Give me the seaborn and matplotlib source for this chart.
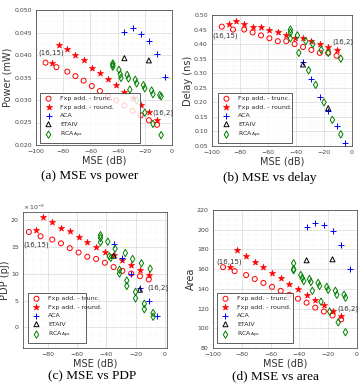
import seaborn as sns
import matplotlib.pyplot as plt
from matplotlib.ticker import AutoMinorLocator

# shared MSE positions (dB)
mse_trunc = [-93, -85, -77, -71, -65, -59, -53, -47, -41, -35, -29, -23, -17, -11]
mse_round = [-88, -83, -77, -71, -65, -59, -53, -47, -41, -35, -29, -23, -17, -11]
mse_aca = [-35, -29, -23, -17, -11, -5]
mse_etaiv = [-35, -17]

# (a) power (mW)
pow_trunc = [0.0383, 0.0373, 0.0363, 0.0353, 0.0343, 0.0331, 0.0320, 0.0309, 0.0299, 0.0288, 0.0276, 0.0266, 0.0255, 0.0245]
pow_round = [0.0383, 0.0423, 0.0413, 0.0400, 0.0388, 0.0372, 0.0360, 0.0346, 0.0333, 0.0318, 0.0304, 0.0288, 0.0274, 0.0256]
pow_aca = [0.0452, 0.0459, 0.0447, 0.0432, 0.0402, 0.0352]
pow_etaiv = [0.0393, 0.0388]
mse_rca_a = [-43.5, -43.5, -43.5, -39, -38, -37.5, -33, -32, -27, -26, -21, -20, -15, -14, -9, -8, -31, -26, -20, -14, -8]
pow_rca = [0.0381, 0.0378, 0.0374, 0.0367, 0.0357, 0.0349, 0.0356, 0.0348, 0.0345, 0.0337, 0.0333, 0.0326,
           0.0321, 0.0313, 0.0311, 0.0308, 0.0323, 0.0299, 0.0272, 0.0247, 0.0222]

# (b) delay (ns)
del_trunc = [0.46, 0.45, 0.45, 0.44, 0.43, 0.42, 0.41, 0.41, 0.40, 0.39, 0.38, 0.37, 0.37, 0.36]
del_round = [0.47, 0.48, 0.47, 0.46, 0.46, 0.45, 0.44, 0.43, 0.42, 0.42, 0.41, 0.40, 0.39, 0.38]
del_aca = [0.34, 0.28, 0.22, 0.17, 0.12, 0.06]
del_etaiv = [0.33, 0.18]
mse_rca_b = [-44, -44, -44, -39, -38, -33, -31, -28, -26, -22, -20, -17, -14, -8, -8]
del_rca = [0.45, 0.44, 0.42, 0.43, 0.37, 0.41, 0.31, 0.40, 0.26, 0.38, 0.20, 0.37, 0.14, 0.35, 0.09]

# (c) PDP (x1e-3 pJ)
pdp_trunc = [17.7, 16.9, 16.3, 15.6, 14.7, 13.9, 13.1, 12.7, 12.0, 11.2, 10.5, 10.0, 9.5, 8.9]
pdp_round = [18.0, 20.4, 19.5, 18.5, 17.9, 16.8, 15.9, 14.9, 14.0, 13.4, 12.5, 11.6, 10.7, 9.7]
pdp_aca = [15.4, 12.9, 10.0, 7.4, 4.9, 2.2]
pdp_etaiv = [13.3, 7.0]
mse_rca_c = [-44, -44, -44, -39, -38, -37, -34, -31, -31, -27, -26, -26, -22, -20, -20, -16, -14, -14, -10, -8, -8]
pdp_rca = [17.1, 16.6, 15.8, 15.9, 13.2, 12.9, 14.6, 10.0, 10.7, 13.8, 8.7, 7.7, 12.7, 6.6, 5.4, 11.9, 4.4, 3.4, 10.9, 2.7, 2.0]

# (d) area
area_trunc = [162, 158, 154, 150, 146, 142, 138, 134, 130, 126, 121, 117, 113, 109]
area_round = [162, 179, 173, 167, 162, 156, 151, 145, 140, 134, 129, 124, 118, 112]
area_aca = [203, 207, 205, 199, 185, 160]
area_etaiv = [169, 170]
mse_rca_d = [-44, -44, -44, -39, -38, -37, -33, -32, -31, -27, -26, -25, -21, -20, -19, -15, -14, -13, -9, -8, -8]
area_rca = [166, 160, 159, 154, 151, 148, 150, 147, 138, 146, 143, 127, 142, 139, 117, 138, 134, 106, 134, 131, 96]

labels = ["Fxp add. - trunc.", "Fxp add. - round.", "ACA", "ETAIV", r"RCA$_{\mathrm{Apx}}$"]

sns.set_style("white")
plt.rcParams['font.family'] = ['DejaVu Sans']

fig = plt.figure(figsize=(3.61, 3.85), dpi=100)
W, H = 361, 385


def px_axes(l, t, r, b):
    return fig.add_axes([l / W, 1 - b / H, (r - l) / W, (b - t) / H])


def open_marks(ax, color):
    coll = ax.collections[-1]
    coll.set_facecolor("none")
    coll.set_edgecolor(color)


def draw(ax, ys, rca_x, rca_y, xlim, ylim, yticks, ylabel, xticks, ann, legbox):
    sns.scatterplot(x=mse_trunc, y=ys[0], ax=ax, marker="o", s=13, linewidth=0.7, label=labels[0])
    open_marks(ax, "red")
    sns.scatterplot(x=mse_round, y=ys[1], ax=ax, marker="*", s=22, color="red",
                    edgecolor="red", linewidth=0.4, label=labels[1])
    sns.scatterplot(x=mse_aca, y=ys[2], ax=ax, marker="+", s=16, color="blue",
                    linewidth=0.7, label=labels[2])
    sns.scatterplot(x=mse_etaiv, y=ys[3], ax=ax, marker="^", s=13, linewidth=0.7, label=labels[3])
    open_marks(ax, "black")
    sns.scatterplot(x=rca_x, y=rca_y, ax=ax, marker="d", s=14, linewidth=0.7, label=labels[4])
    open_marks(ax, "green")
    ax.set_xlim(*xlim)
    ax.set_ylim(*ylim)
    ax.set_yticks(yticks)
    ax.set_xticks(xticks)
    ax.xaxis.set_minor_locator(AutoMinorLocator(4))
    ax.yaxis.set_minor_locator(AutoMinorLocator(4))
    ax.grid(which="major", color="#d0d0d0", linewidth=0.4)
    ax.grid(which="minor", color="#e6e6e6", linewidth=0.3, linestyle=":")
    ax.set_axisbelow(True)
    ax.tick_params(labelsize=4.5, length=1.5, width=0.4, colors="#444444", pad=1.5)
    for s in ax.spines.values():
        s.set_linewidth(0.5)
        s.set_color("#333333")
    ax.set_xlabel("MSE (dB)", fontsize=7, labelpad=1, color="#333333")
    ax.set_ylabel(ylabel, fontsize=7, labelpad=1, color="#333333")
    leg = ax.legend(loc="lower left", bbox_to_anchor=legbox, mode="expand", fontsize=4.5,
                    frameon=True, fancybox=False, edgecolor="#333333", borderpad=0.45,
                    handletextpad=1.0, handlelength=1.8, labelspacing=0.5, borderaxespad=0.0)
    leg.get_frame().set_linewidth(0.7)
    for (tx, ty, txt) in ann:
        ax.text(tx, ty, txt, fontsize=5, color="#333333", va="center")


ax_a = px_axes(36, 10, 172, 145)
draw(ax_a, [pow_trunc, pow_round, pow_aca, pow_etaiv], mse_rca_a, pow_rca,
     (-100, 0), (0.02, 0.05), [0.02, 0.025, 0.03, 0.035, 0.04, 0.045, 0.05], "Power (mW)",
     [-100, -80, -60, -40, -20, 0],
     [(-98, 0.0404, "(16,15)"), (-14.7, 0.0271, "(16,2)")],
     (0.03, 0.015, 0.735, 0.3))

ax_b = px_axes(212, 15, 352, 146)
draw(ax_b, [del_trunc, del_round, del_aca, del_etaiv], mse_rca_b, del_rca,
     (-100, 0), (0.05, 0.5), [0.05, 0.1, 0.15, 0.2, 0.25, 0.3, 0.35, 0.4, 0.45, 0.5], "Delay (ns)",
     [-100, -80, -60, -40, -20, 0],
     [(-100, 0.428, "(16,15)"), (-14.3, 0.407, "(16,2)")],
     (0.043, 0.023, 0.53, 0.3))

ax_c = px_axes(23, 212, 167, 348)
draw(ax_c, [pdp_trunc, pdp_round, pdp_aca, pdp_etaiv], mse_rca_c, pdp_rca,
     (-97, 1.5), (-3.8, 21.4), [0, 5, 10, 15, 20], "PDP (pJ)",
     [-80, -60, -40, -20, 0],
     [(-97, 15.3, "(16,15)"), (-12.2, 7.4, "(16,2)")],
     (0.035, 0.037, 0.405, 0.3))
ax_c.text(0.0, 1.015, r"$\times\,10^{-3}$", transform=ax_c.transAxes, fontsize=4.5, color="#444444")

ax_d = px_axes(213, 210, 357, 348)
draw(ax_d, [area_trunc, area_round, area_aca, area_etaiv], mse_rca_d, area_rca,
     (-100, 0), (80, 220), [80, 100, 120, 140, 160, 180, 200, 220], "Area",
     [-100, -80, -60, -40, -20, 0],
     [(-98, 168, "(16,15)"), (-13.9, 119.6, "(16,2)")],
     (0.028, 0.036, 0.53, 0.3))

caps = [(90, 176, "(a) MSE vs power"), (270, 178, "(b) MSE vs delay"),
        (92, 376, "(c) MSE vs PDP"), (276, 376, "(d) MSE vs area")]
for cx, cy, txt in caps:
    fig.text(cx / W, 1 - cy / H, txt, ha="center", va="center", fontsize=9.5,
             family="Liberation Serif", color="black")

plt.savefig("out.png", dpi=100)
